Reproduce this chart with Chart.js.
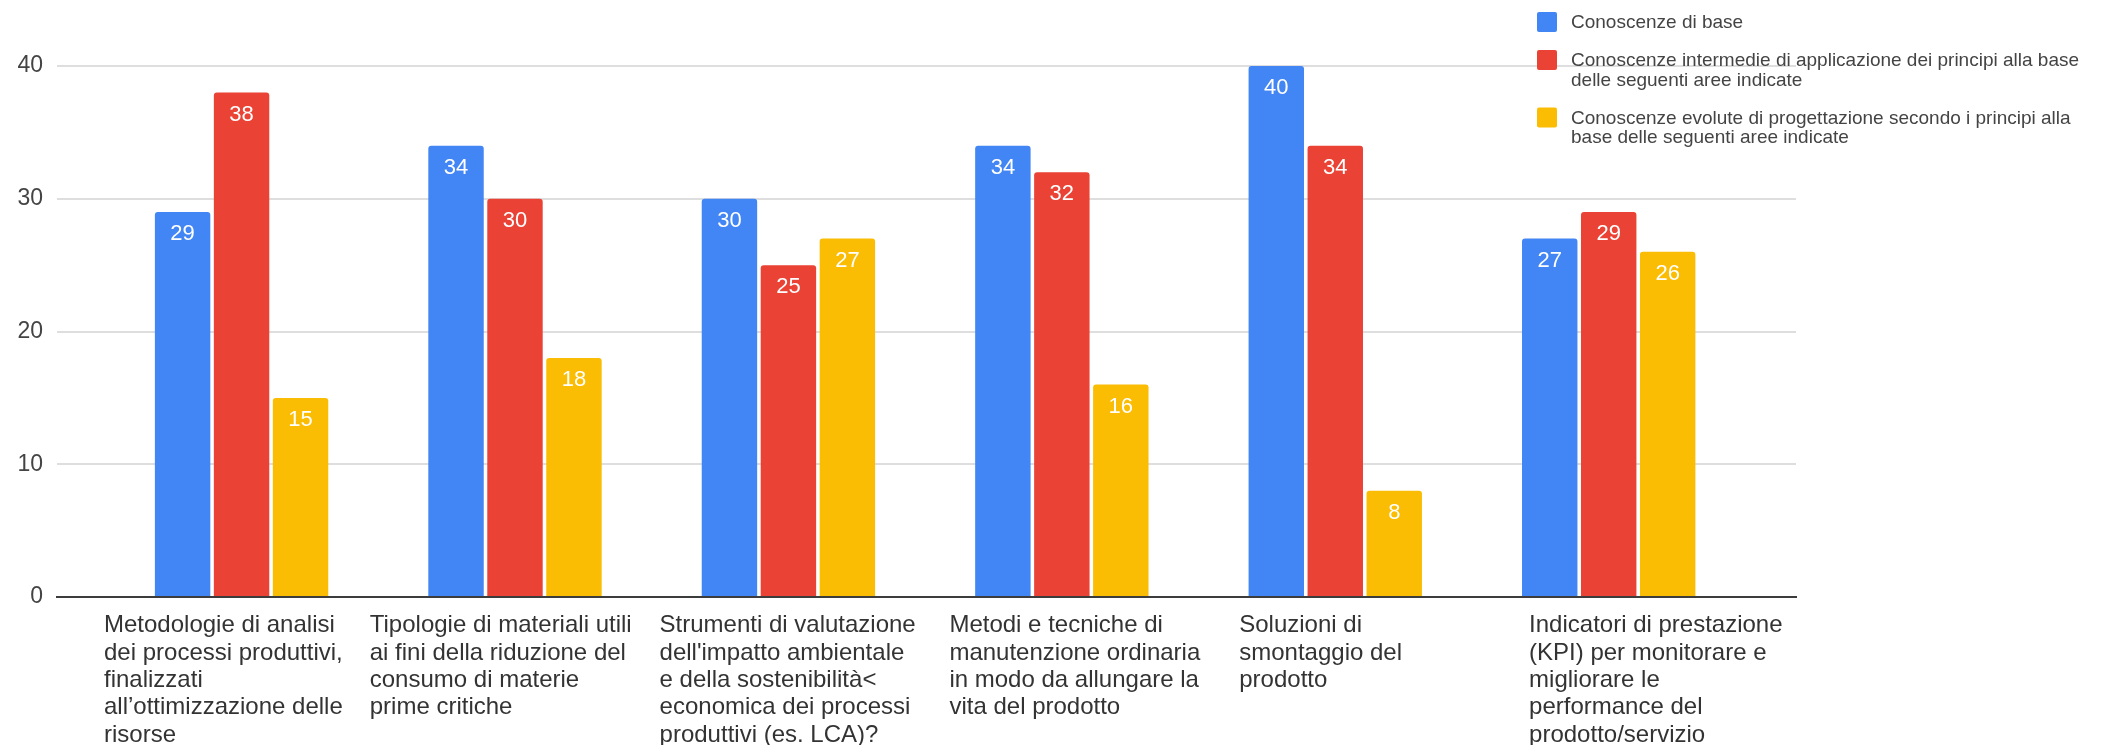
<!DOCTYPE html>
<html>
<head>
<meta charset="utf-8">
<title>Conoscenze</title>
<script src="https://cdn.jsdelivr.net/npm/chart.js@4.4.1/dist/chart.umd.min.js"></script>
<style>
    html, body { margin: 0; padding: 0; background: #ffffff; }
    #wrap { width: 2118px; height: 745px; position: relative; }
</style>
</head>
<body>
<div id="wrap"><canvas id="skillsChart"></canvas></div>
<script>
// one entry per topic, already split into lines
const categories = [
    ["Metodologie di analisi", "dei processi produttivi,", "finalizzati", "all’ottimizzazione delle", "risorse"],
    ["Tipologie di materiali utili", "ai fini della riduzione del", "consumo di materie", "prime critiche"],
    ["Strumenti di valutazione", "dell'impatto ambientale", "e della sostenibilità<", "economica dei processi", "produttivi (es. LCA)?"],
    ["Metodi e tecniche di", "manutenzione ordinaria", "in modo da allungare la", "vita del prodotto"],
    ["Soluzioni di", "smontaggio del", "prodotto"],
    ["Indicatori di prestazione", "(KPI) per monitorare e", "migliorare le", "performance del", "prodotto/servizio"]
];

const seriesNames = [
    ["Conoscenze di base"],
    ["Conoscenze intermedie di applicazione dei principi alla base", "delle seguenti aree indicate"],
    ["Conoscenze evolute di progettazione secondo i principi alla", "base delle seguenti aree indicate"]
];

const seriesColors = ["#4285f4", "#ea4335", "#fbbc04"];

const baseValues = [29, 34, 30, 34, 40, 27];
const intermediateValues = [38, 30, 25, 32, 34, 29];
const advancedValues = [15, 18, 27, 16, 8, 26];

const yMin = 0;
const yMax = 40;
const yStep = 10;

const FONT = '"Liberation Sans", Arial, sans-serif';

// white value printed just under the top of each bar
const barValueLabels = {
    id: "barValueLabels",
    afterDatasetsDraw(chart)
    {
        const { ctx } = chart;
        ctx.save();
        ctx.font = "22px " + FONT;
        ctx.fillStyle = "#ffffff";
        ctx.textAlign = "center";
        ctx.textBaseline = "middle";

        chart.data.datasets.forEach((ds, di) =>
        {
            chart.getDatasetMeta(di).data.forEach((bar, i) =>
            {
                ctx.fillText(String(ds.data[i].y), bar.x, bar.y + 22);
            });
        });
        ctx.restore();
    }
};

// keep the first category text clear of the y axis labels
const labelClamp = {
    id: "labelClamp",
    afterLayout(chart, args, opts)
    {
        const scale = chart.scales.xLabels;
        const minX = chart.chartArea.left + opts.inset;
        for (const item of scale.getLabelItems(chart.chartArea))
        {
            if (item.options.translation[0] < minX)
            {
                item.options.translation[0] = minX;
            }
        }
    }
};

// legend block in the top right corner, with wrapped names
const sideLegend = {
    id: "sideLegend",
    afterDraw(chart, args, opts)
    {
        const { ctx } = chart;
        const box = 20;
        const lineHeight = 19.5;
        let top = opts.top;

        ctx.save();
        ctx.font = "19px " + FONT;
        ctx.textBaseline = "middle";
        ctx.textAlign = "left";

        chart.data.datasets.forEach((ds) =>
        {
            ctx.fillStyle = ds.backgroundColor;
            ctx.beginPath();
            ctx.roundRect(opts.left, top, box, box, 2);
            ctx.fill();

            ctx.fillStyle = "#444444";
            ds.legendLines.forEach((line, li) =>
            {
                ctx.fillText(line, opts.left + 34, top + box / 2 + 1 + li * lineHeight);
            });

            top += ds.legendLines.length * lineHeight + 18.5;
        });
        ctx.restore();
    }
};

const series = [baseValues, intermediateValues, advancedValues];

new Chart(document.getElementById("skillsChart"), {
    type: "bar",
    data: {
        labels: categories,
        datasets: series.map((values, s) => ({
            label: seriesNames[s].join(" "),
            legendLines: seriesNames[s],
            data: values.map((v, i) => ({ x: i, y: v })),
            backgroundColor: seriesColors[s],
            borderRadius: 3,
            borderSkipped: "start",
            xAxisID: "x",
            yAxisID: "y",
            categoryPercentage: 0.647,
            barPercentage: 0.94
        }))
    },
    options: {
        responsive: true,
        maintainAspectRatio: false,
        animation: false,
        devicePixelRatio: 1,
        layout: {
            padding: { left: 0, right: 322, top: 66, bottom: 0 }
        },
        plugins: {
            legend: { display: false },
            tooltip: { enabled: false },
            sideLegend: { left: 1537, top: 12 },
            labelClamp: { inset: 47 }
        },
        scales: {
            x: {
                type: "linear",
                display: false,
                offset: false,
                min: -0.675,
                max: 5.685,
                afterBuildTicks: (scale) =>
                {
                    scale.ticks = categories.map((c, i) => ({ value: i }));
                }
            },
            xLabels: {
                type: "category",
                position: "bottom",
                offset: true,
                z: 1,
                grid: { display: false, drawTicks: false },
                border: { display: true, color: "#3c3c3c", width: 2 },
                ticks: {
                    align: "start",
                    labelOffset: -122,
                    maxRotation: 0,
                    minRotation: 0,
                    autoSkip: false,
                    padding: 15,
                    color: "#333333",
                    font: { family: FONT, size: 24, lineHeight: 1.14 }
                },
                afterFit: (scale) =>
                {
                    scale.height = 148;
                }
            },
            y: {
                min: yMin,
                max: yMax,
                grid: {
                    drawTicks: false,
                    lineWidth: 2,
                    color: (c) => (c.tick && c.tick.value === 0 ? "rgba(0,0,0,0)" : "#dedede")
                },
                border: { display: false },
                ticks: {
                    stepSize: yStep,
                    padding: 14,
                    color: "#444444",
                    font: { family: FONT, size: 23 }
                },
                afterFit: (scale) =>
                {
                    scale.width = 57;
                }
            }
        }
    },
    plugins: [barValueLabels, labelClamp, sideLegend]
});
</script>
</body>
</html>
